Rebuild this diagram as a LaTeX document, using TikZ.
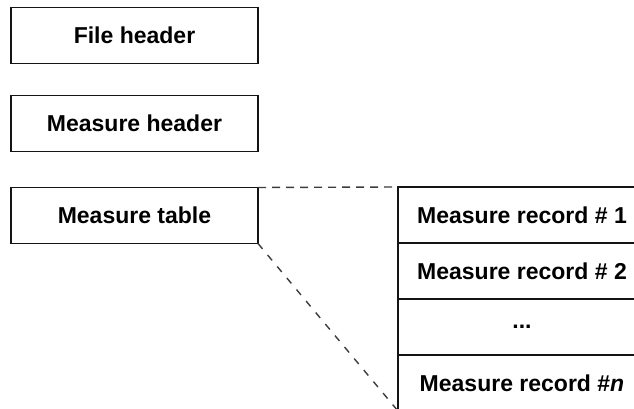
\documentclass[tikz,border=0pt]{standalone}
\usepackage{fontspec}
\setmainfont{Liberation Sans}
\usetikzlibrary{positioning}
\definecolor{boxline}{RGB}{20, 20, 20}
\definecolor{dashline}{RGB}{60, 60, 60}

\begin{document}
\begin{tikzpicture}[x=1pt, y=-1pt,
    block/.style={draw=boxline, line width=1.6pt, inner sep=0pt, outer sep=0pt,
                  minimum width=247pt, minimum height=56pt,
                  font=\fontsize{23}{27}\selectfont\bfseries},
    record/.style={block, minimum width=248pt},
    link/.style={dashline, line width=1.4pt, dash pattern=on 8pt off 6pt}]
                \useasboundingbox (0, 0) rectangle (634, 409);

                % Nodes
                \node[block] (fheader) at (134.5, 35.5) {File header};
                \node[block] (mheader) at (134.5, 123.5) {Measure header};
                \node[block] (mtable) at (134.5, 215.5) {Measure table};

                \node[record] (rec1) at (522, 215) {Measure record \# 1};
                \node[record] (rec2) at (522, 271) {Measure record \# 2};
                \node[record] (recdots) at (522, 327) {...};
                \node[record] (recn) at (522, 383) {Measure record \#\textit{n}};

                % Edges
                \draw[link] (mtable.north east) -- (rec1.north west);
                \draw[link, dash pattern=on 7pt off 8pt] (mtable.south east) -- (recn.south west);
            \end{tikzpicture}
\end{document}
